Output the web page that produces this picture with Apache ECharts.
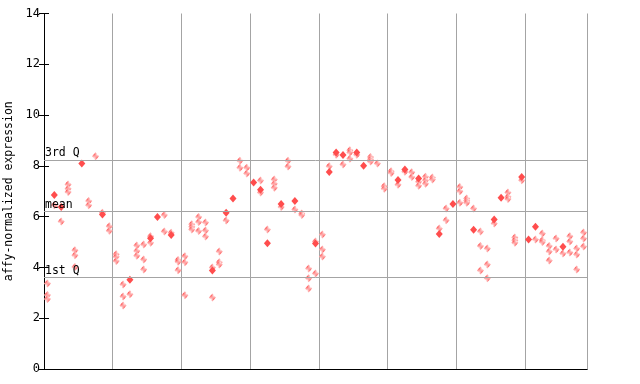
<!DOCTYPE html>
<html><head><meta charset="utf-8">
<script src="https://cdn.jsdelivr.net/npm/echarts@6/dist/echarts.min.js"></script>
<style>html,body{margin:0;padding:0;background:#fff}#c{width:640px;height:384px}</style>
</head><body><div id="c"></div>
<script>
// per-sample (column) values, hatched markers
const hatchVals = [
 [3.37,2.91,2.76],[6.45],[5.81],[7.27,7.1,6.97],[4.68,4.48,4.02],[],[6.62,6.45],[8.38],[6.15],[5.62,5.44],
 [4.52,4.42,4.25],[3.33,2.86,2.5],[2.94],[4.86,4.65,4.46],[4.9,4.31,3.92],[5.23,4.97],[],[6.06,5.41],[5.37],[4.29,4.22,3.89],
 [4.44,4.2,2.9],[5.7,5.6,5.49],[5.99,5.79,5.43],[5.77,5.45,5.22],[4.0,2.82],[4.63,4.2,4.12],[5.85],[],[8.2,7.93],[7.93,7.7],
 [],[7.42,6.95],[5.49],[7.46,7.3,7.14],[6.38],[8.2,7.97],[6.28],[6.12,6.06],[3.96,3.57,3.17],[5.02,3.76],
 [5.3,4.71,4.43],[7.98],[8.44],[8.05],[8.61,8.53,8.28],[8.44],[],[8.35,8.26,8.17],[8.09],[7.2,7.1],
 [7.79,7.72],[7.26],[7.77],[7.75,7.56],[7.37,7.22],[7.57,7.43,7.3],[7.54,7.46],[5.53],[6.32,5.86],[],
 [7.17,7.0,6.55],[6.71,6.63,6.55],[6.32],[5.41,4.84,3.88],[4.75,4.12,3.57],[5.73],[],[6.95,6.78,6.69],[5.18,5.07,4.97],[7.43],
 [],[5.1],[5.34,5.07,5.0],[4.84,4.63,4.27],[5.14,4.71],[4.55],[5.23,5.02,4.59],[4.75,4.51,3.92],[5.38,5.14,4.82]
];
// per-sample (column) values, solid markers
const solidVals = [
 [],[6.85],[6.38],[],[],[8.09],[],[],[6.08],[],
 [],[],[3.51],[],[],[5.15],[5.99],[],[5.28],[],
 [],[],[],[],[3.88],[],[6.15],[6.71],[],[],
 [7.34],[7.06],[4.95],[],[6.5],[],[6.62],[],[],[4.94],
 [],[7.76],[8.53],[8.43],[],[8.53],[8.0],[],[],[],
 [],[7.44],[7.86],[],[7.5],[],[],[5.32],[],[6.5],
 [],[],[5.48],[],[],[5.89],[6.74],[],[],[7.56],
 [5.1],[5.6],[],[],[],[4.81],[],[],[]
];
const quartileNames = ['3rd Q','mean','1st Q'];
const quartileVals = [8.22, 6.2, 3.6];
const yTicks = [0,2,4,6,8,10,12,14];
const yAxisName = 'affy-normalized expression';

function toPoints(cols){const out=[];cols.forEach((vs,i)=>vs.forEach(v=>out.push([i+0.5,v])));return out;}
const nCols = hatchVals.length;

const pc = document.createElement('canvas'); pc.width=2; pc.height=2;
const g = pc.getContext('2d'); g.fillStyle='#fff'; g.fillRect(0,0,2,2);
g.fillStyle='#ff4d4d'; g.fillRect(0,0,1,1); g.fillRect(1,1,1,1);

const font='DejaVu Sans Mono';
const chart = echarts.init(document.getElementById('c'));
chart.setOption({
 animation:false,
 grid:{left:44,right:53,top:13.5,bottom:15,containLabel:false,outerBoundsMode:'none'},
 xAxis:[{type:'value',min:0,max:nCols,interval:10,axisLabel:{show:false},axisTick:{show:false},
   axisLine:{onZero:false,lineStyle:{color:'#000',width:1}},
   splitLine:{show:true,lineStyle:{color:'#a4a4a4',width:1}}},
  {type:'value',position:'top',min:0,max:nCols,axisLabel:{show:false},axisTick:{show:false},
   axisLine:{lineStyle:{color:'#000'}},splitLine:{show:false}}],
 yAxis:[{type:'value',min:yTicks[0],max:yTicks[yTicks.length-1],interval:2,
   name:yAxisName,nameLocation:'middle',nameGap:27,
   nameTextStyle:{fontFamily:font,fontSize:11.5,color:'#000'},
   axisLine:{lineStyle:{color:'#000'}},axisTick:{inside:true,length:5,lineStyle:{color:'#000'}},
   axisLabel:{fontFamily:font,fontSize:12,color:'#000',margin:4},splitLine:{show:false}},
  {type:'value',position:'right',min:yTicks[0],max:yTicks[yTicks.length-1],interval:2,
   axisLine:{lineStyle:{color:'#000'}},axisTick:{inside:true,length:5,lineStyle:{color:'#000'}},
   axisLabel:{show:false},splitLine:{show:false}}],
 series:[
  {type:'scatter',symbol:'diamond',symbolSize:[7,8],data:toPoints(hatchVals),
   itemStyle:{color:{image:pc,repeat:'repeat'},opacity:1},
   markLine:{silent:true,symbol:'none',animation:false,
    lineStyle:{color:'#a4a4a4',width:1,type:'solid'},
    label:{position:'insideStartTop',formatter:p=>p.name,fontFamily:font,fontSize:11.5,color:'#000',distance:[1,1]},
    data:quartileNames.map((n,i)=>({name:n,yAxis:quartileVals[i]}))}},
  {type:'scatter',symbol:'diamond',symbolSize:[7,8],data:toPoints(solidVals),
   itemStyle:{color:'#ff4d4d',opacity:1}}
 ]
});
</script></body></html>
